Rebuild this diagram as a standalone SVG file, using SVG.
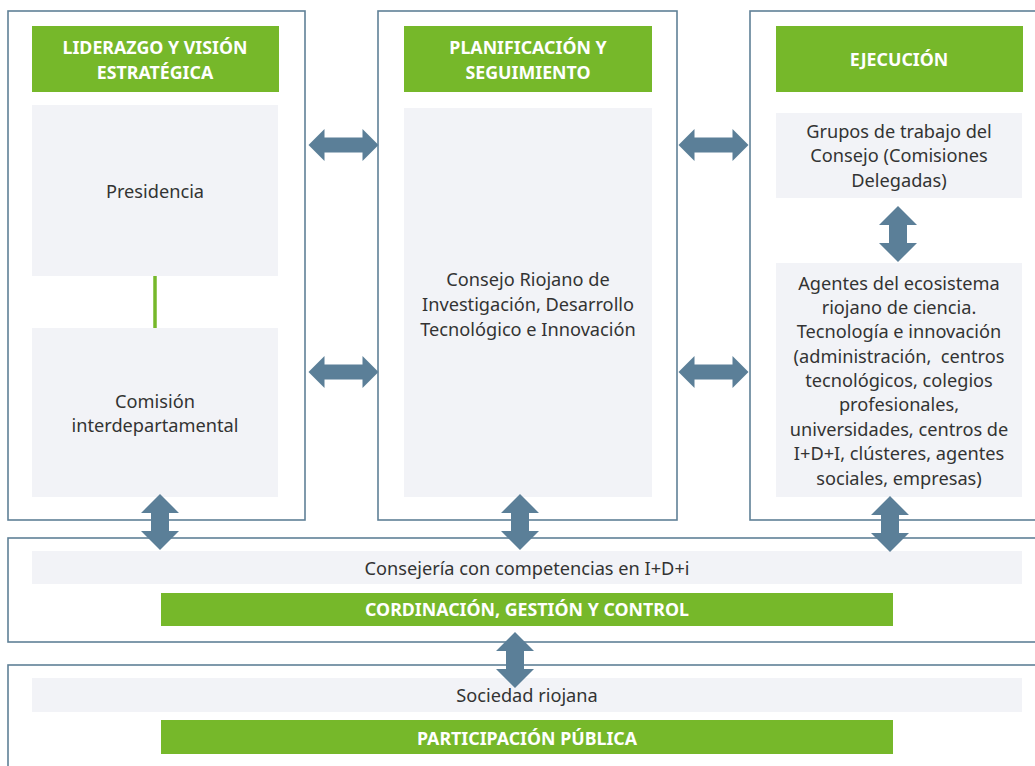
<svg xmlns="http://www.w3.org/2000/svg" width="1035" height="766" viewBox="0 0 1035 766">
<defs>
<style>
.panel{fill:#fff;stroke:#5f8097;stroke-width:1.6}
.head{fill:#76b82a}
.box{fill:#f2f3f7}
.ht{font-family:"Noto Sans",sans-serif;font-weight:bold;font-size:17.8px;fill:#fff;text-anchor:middle}
.bt{font-family:"Noto Sans",sans-serif;font-size:18.2px;fill:#333;text-anchor:middle}
.arr{fill:#5b7f98}
</style>
<path id="ah" d="M-35,0 L-19,-16 L-19,-7.5 L19,-7.5 L19,-16 L35,0 L19,16 L19,7.5 L-19,7.5 L-19,16 Z"/>
<path id="av" d="M0,-28 L19,-9 L9,-9 L9,9 L19,9 L0,28 L-19,9 L-9,9 L-9,-9 L-19,-9 Z"/>
</defs>
<rect width="1035" height="766" fill="#fff"/>
<g id="panel-liderazgo">
<rect class="panel" x="8" y="11" width="297" height="509"/>
<rect class="head" x="32" y="26" width="247" height="66"/>
<text class="ht" x="155" y="54">LIDERAZGO Y VISIÓN</text>
<text class="ht" x="155" y="79">ESTRATÉGICA</text>
</g>
<g id="presidencia">
<rect class="box" x="32" y="105" width="246" height="171"/>
<text class="bt" x="155" y="198">Presidencia</text>
</g>
<g id="comision">
<rect class="box" x="32" y="328" width="246" height="169"/>
<text class="bt" x="155" y="408">Comisión</text>
<text class="bt" x="155" y="432">interdepartamental</text>
</g>
<g id="panel-planificacion">
<rect class="panel" x="378" y="11" width="299" height="509"/>
<rect class="head" x="404" y="26" width="248" height="66"/>
<text class="ht" x="528" y="54">PLANIFICACIÓN Y</text>
<text class="ht" x="528" y="79">SEGUIMIENTO</text>
</g>
<g id="consejo">
<rect class="box" x="404" y="108" width="248" height="389"/>
<text class="bt" x="528" y="286">Consejo Riojano de</text>
<text class="bt" x="528" y="311">Investigación, Desarrollo</text>
<text class="bt" x="528" y="336">Tecnológico e Innovación</text>
</g>
<g id="panel-ejecucion">
<rect class="panel" x="750" y="11" width="300" height="509"/>
<rect class="head" x="776" y="26" width="247" height="66"/>
<text class="ht" x="899" y="66">EJECUCIÓN</text>
</g>
<g id="grupos">
<rect class="box" x="776" y="113" width="246" height="85"/>
<text class="bt" x="899" y="138">Grupos de trabajo del</text>
<text class="bt" x="899" y="162">Consejo (Comisiones</text>
<text class="bt" x="899" y="187">Delegadas)</text>
</g>
<g id="agentes">
<rect class="box" x="776" y="263" width="246" height="234"/>
<text class="bt" x="899" y="290">Agentes del ecosistema</text>
<text class="bt" x="899" y="314">riojano de ciencia.</text>
<text class="bt" x="899" y="338">Tecnología e innovación</text>
<text class="bt" x="899" y="363" xml:space="preserve" style="white-space:pre">(administración,  centros</text>
<text class="bt" x="899" y="387">tecnológicos, colegios</text>
<text class="bt" x="899" y="411">profesionales,</text>
<text class="bt" x="899" y="436">universidades, centros de</text>
<text class="bt" x="899" y="460">I+D+I, clústeres, agentes</text>
<text class="bt" x="899" y="485">sociales, empresas)</text>
</g>
<g id="panel-coordinacion">
<rect class="panel" x="8" y="538" width="1040" height="104"/>
<rect class="box" x="32" y="551" width="990" height="33"/>
<text class="bt" x="527" y="575">Consejería con competencias en I+D+i</text>
<rect class="head" x="161" y="593" width="732" height="33"/>
<text class="ht" x="527" y="616">CORDINACIÓN, GESTIÓN Y CONTROL</text>
</g>
<g id="panel-participacion">
<rect class="panel" x="8" y="665" width="1040" height="120"/>
<rect class="box" x="32" y="678" width="990" height="34"/>
<text class="bt" x="527" y="702">Sociedad riojana</text>
<rect class="head" x="161" y="720" width="732" height="34"/>
<text class="ht" x="527" y="745">PARTICIPACIÓN PÚBLICA</text>
</g>
<g id="connectors">
<line x1="155" y1="276" x2="155" y2="328" stroke="#76b82a" stroke-width="3.5"/>
<use href="#ah" class="arr" x="343.5" y="145"/>
<use href="#ah" class="arr" x="343.5" y="372"/>
<use href="#ah" class="arr" x="713.5" y="145"/>
<use href="#ah" class="arr" x="713.5" y="372"/>
<use href="#av" class="arr" x="160" y="522"/>
<use href="#av" class="arr" x="520" y="522"/>
<use href="#av" class="arr" x="890" y="524"/>
<use href="#av" class="arr" x="898" y="234"/>
<use href="#av" class="arr" x="515" y="660"/>
</g>
</svg>
